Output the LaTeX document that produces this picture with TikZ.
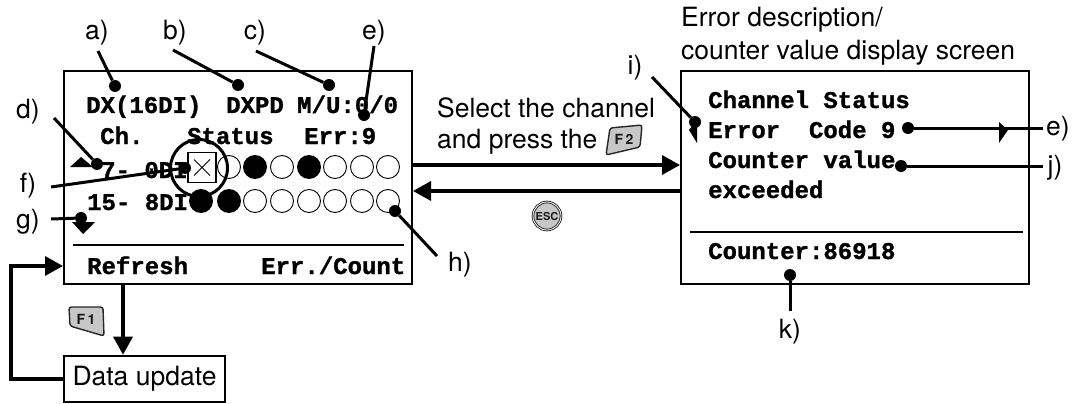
\documentclass[tikz,border=0pt]{standalone}
\usepackage{fontspec}
\setmainfont{TeX Gyre Heros}
\newfontfamily\screenfont{Liberation Mono}[BoldFont={Liberation Mono Bold},BoldFeatures={FakeBold=1.2}]
\usetikzlibrary{arrows.meta,shapes.misc}
\tikzset{
  panel/.style={draw,line width=2.6pt,inner sep=0pt},
  rule/.style={line width=2.2pt},
  flow/.style={line width=3.4pt,-{Triangle[length=18pt,width=19pt]}},
  lead/.style={line width=3pt},
  lab/.style={inner sep=0pt,font=\fontsize{26.5}{30}\selectfont},
  scr/.style={inner sep=0pt,anchor=base west,font=\fontsize{24}{28}\selectfont\screenfont\bfseries},
  dot/.style={circle,fill=black,inner sep=0pt,minimum size=12pt},
  ledoff/.style={circle,draw,line width=.9pt,fill=white,inner sep=0pt,minimum size=23pt},
  ledon/.style={circle,fill=black,inner sep=0pt,minimum size=24pt},
  keycap/.style={draw=black!85,fill=black!22,line width=1.4pt,rounded corners=2.5pt},
  keytxt/.style={inner sep=0pt,text=black!90,font=\fontsize{14}{16}\selectfont\bfseries}
}
\begin{document}
\begin{tikzpicture}[x=1pt,y=-1pt]
  \useasboundingbox (0,0) rectangle (1074,404);
  % boxes
  \node[panel,minimum width=348pt,minimum height=213pt] (chanbox) at (238,177.5) {};
  \node[panel,minimum width=348pt,minimum height=213pt] (errbox) at (855,177.5) {};
  \node[panel,minimum width=161pt,minimum height=46pt,font=\fontsize{26.5}{30}\selectfont] (upd) at (144.5,379) {Data update};
  \draw[rule] (73,245) -- (404,245);
  \draw[rule] (690,232) -- (1023,232);
  % left screen
  \node[scr] (dxname) at (86,113) {DX(16DI)};
  \node[scr] (dxpd) at (226,113) {DXPD};
  \node[scr] (mode) at (297,113) {M/U:0/0};
  \node[scr] (chhead) at (100,144) {Ch.};
  \node[scr] (sthead) at (187,144) {Status};
  \node[scr] (errcnt) at (304,144) {Err:9};
  \node[scr] (rowa) at (101,178) {7- 0DI};
  \node[scr] (rowb) at (87,210) {15- 8DI};
  \node[scr] (refresh) at (87,274) {Refresh};
  \node[scr] (errcount) at (261,274) {Err./Count};
  % channel lamps
  \node[ledoff] (a1) at (229,167) {};
  \node[ledon] (a2) at (255,167) {};
  \node[ledoff] (a3) at (282,167) {};
  \node[ledon] (a4) at (309,167) {};
  \node[ledoff] (a5) at (335,167) {};
  \node[ledoff] (a6) at (362,167) {};
  \node[ledoff] (a7) at (388,167) {};
  \node[ledon] (b0) at (201,201) {};
  \node[ledon] (b1) at (229,201) {};
  \node[ledoff] (b2) at (255,201) {};
  \node[ledoff] (b3) at (282,201) {};
  \node[ledoff] (b4) at (309,201) {};
  \node[ledoff] (b5) at (335,201) {};
  \node[ledoff] (b6) at (362,201) {};
  \node[ledoff] (b7) at (388,201) {};
  \node[draw,line width=1.4pt,fill=white,inner sep=0pt,minimum width=28pt,minimum height=30pt] (fault) at (202,167.5) {};
  \node[draw,cross out,line width=1pt,inner sep=0pt,minimum size=15pt] (faultx) at (202,167.5) {};
  \node[circle,draw,line width=3pt,inner sep=0pt,minimum size=57pt] (ring) at (199,168) {};
  \fill (70,167) -- (81,157) -- (93,167) -- cycle;
  \fill (72,222) -- (95,222) -- (83,234) -- cycle;
  % right screen
  \node[scr] (stline) at (708,108) {Channel Status};
  \node[scr] (codeline) at (708,138) {Error\ \ Code 9};
  \node[scr] (cntline) at (708,168) {Counter value};
  \node[scr] (exline) at (708,198) {exceeded};
  \node[scr] (cntval) at (708,259) {Counter:86918};
  \fill (697,120) -- (697,143) -- (689,130) -- cycle;
  \fill (999,122) -- (1008,130) -- (999,143) -- cycle;
  % captions
  \node[lab,anchor=west] (ttla) at (681,20) {Error description/};
  \node[lab,anchor=west] (ttlb) at (681,53) {counter value display screen};
  \node[lab,anchor=west] (sela) at (437,108) {Select the channel};
  \node[lab,anchor=west] (selb) at (437,142) {and press the};
  % letters
  \node[lab] (la) at (97,33) {a)};
  \node[lab] (lb) at (175,33) {b)};
  \node[lab] (lc) at (255,33) {c)};
  \node[lab] (le) at (374,33) {e)};
  \node[lab] (ld) at (28,112) {d)};
  \node[lab] (lf) at (28,186) {f)};
  \node[lab] (lg) at (28,222) {g)};
  \node[lab] (lh) at (460,265) {h)};
  \node[lab] (li) at (635,68) {i)};
  \node[lab] (lee) at (1058,129) {e)};
  \node[lab] (lj) at (1055,168) {j)};
  \node[lab] (lk) at (790,332) {k)};
  % leader dots and free ends
  \node[dot] (da) at (115,86) {};
  \node[dot] (db) at (238,85) {};
  \node[dot] (dc) at (329,85) {};
  \node[dot] (de) at (364,115) {};
  \node[dot] (dd) at (97,164) {};
  \node[dot] (df) at (185,168) {};
  \node[dot] (dg) at (81,218) {};
  \node[dot] (dh) at (395,211) {};
  \node[dot] (di) at (695,122) {};
  \node[dot] (dee) at (908,128) {};
  \node[dot] (dj) at (901,166) {};
  \node[dot] (dk) at (790,275) {};
  \coordinate (ea) at (98,51);
  \coordinate (eb) at (173,50);
  \coordinate (ec) at (256,51);
  \coordinate (ee) at (374,46);
  \coordinate (ed) at (54,118);
  \coordinate (ef) at (51,187);
  \coordinate (eg) at (51,219);
  \coordinate (eh) at (437,256);
  \coordinate (ei) at (652,77);
  \coordinate (eee) at (1043,128);
  \coordinate (ej) at (1043,166);
  \coordinate (ek) at (790,311);
  \begin{scope}[lead]
    \draw (ea) to (da);
    \draw (eb) to (db);
    \draw (ec) to (dc);
    \draw (ee) to (de);
    \draw (ed) to (dd);
    \draw (ef) to (df);
    \draw (eg) to (dg);
    \draw (eh) to (dh);
    \draw (ei) to (di);
    \draw (eee) to (dee);
    \draw (ej) to (dj);
    \draw (ek) to (dk);
  \end{scope}
  % flow arrows
  \coordinate (outa) at (413,165);
  \coordinate (ina) at (680,165);
  \coordinate (outb) at (680,191);
  \coordinate (inb) at (413,191);
  \coordinate (down) at (123,285);
  \coordinate (turn) at (11,266);
  \coordinate (back) at (63,266);
  \draw[flow] (outa) to (ina);
  \draw[flow] (outb) to (inb);
  \draw[flow] (down) to (down |- upd.north);
  \draw[flow] (upd.west) -| (turn) -- (back);
  % keys
  \draw[keycap] (69,307) -- (103,307) -- (104,336) -- (70,326) -- cycle;
  \node[keytxt] (fone) at (86,319) {F\,1};
  \draw[keycap] (610,128) -- (642,125) -- (640,147) -- (606,155) -- cycle;
  \node[keytxt] (ftwo) at (624,139) {F\,2};
  \node[circle,draw=black!85,fill=black!22,double=white,double distance=.8pt,line width=.9pt,inner sep=0pt,minimum size=28pt] (esc) at (547,216) {};
  \node[keytxt,font=\fontsize{11}{13}\selectfont\bfseries] (esctxt) at (547,216) {ESC};
\end{tikzpicture}
\end{document}
